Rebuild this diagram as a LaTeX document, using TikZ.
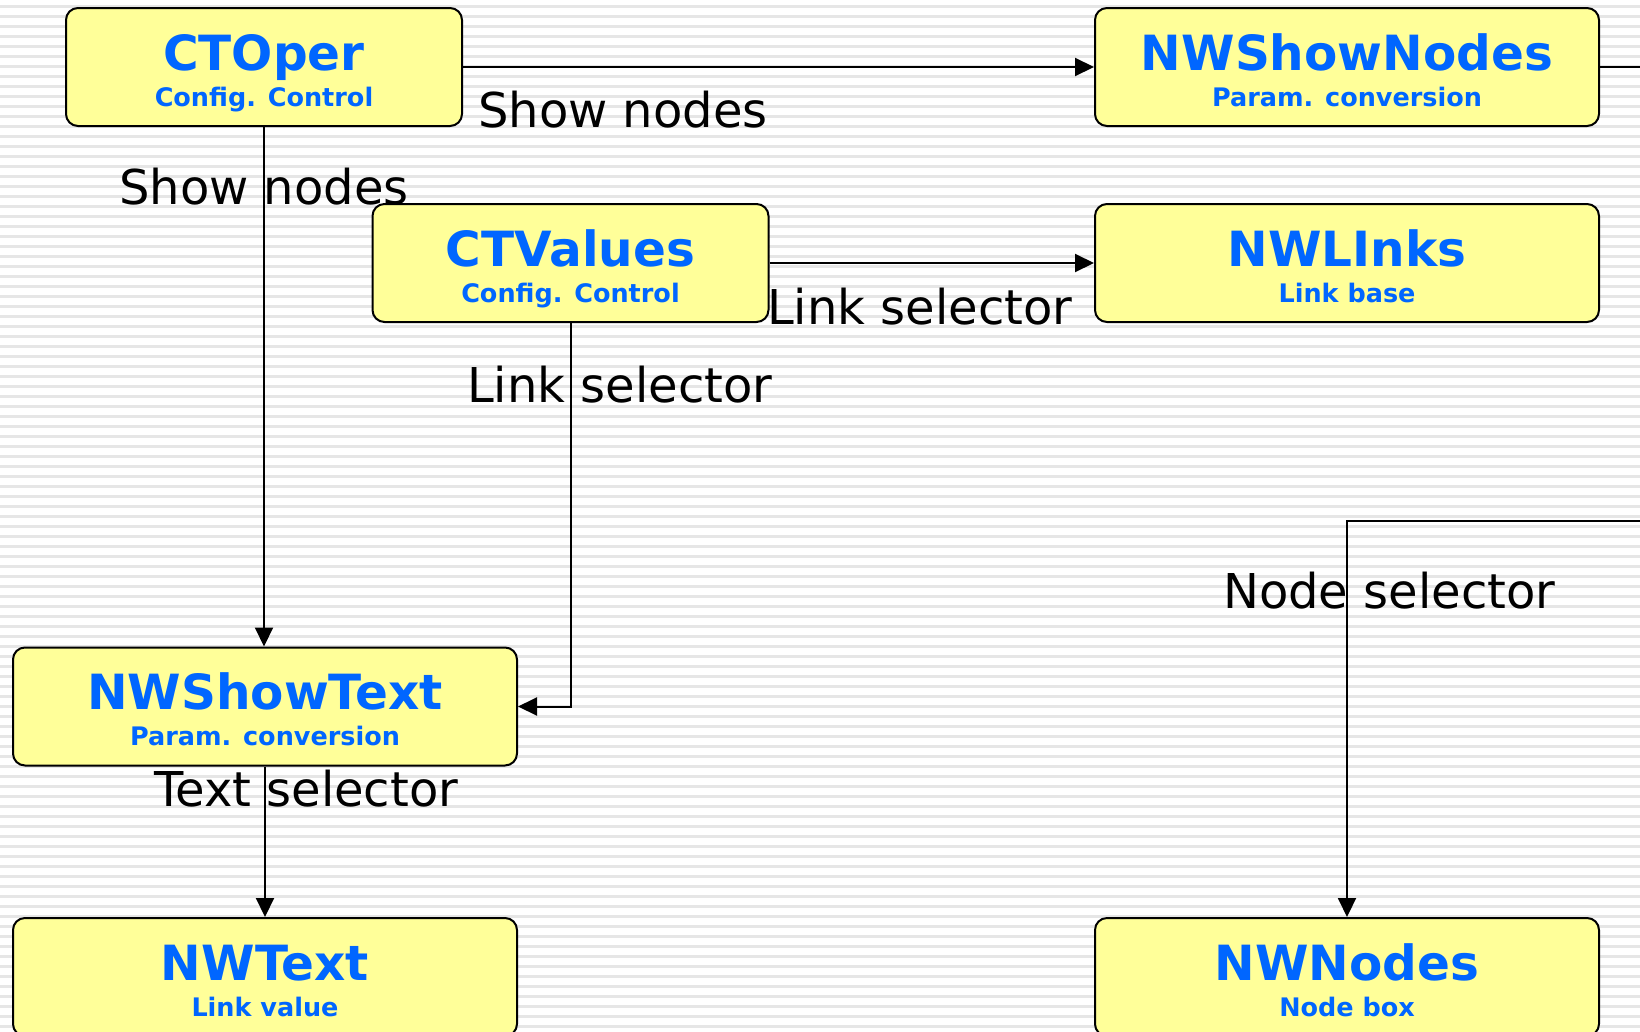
\documentclass[tikz,border=0pt]{standalone}
\usepackage{fontspec}
\setmainfont{DejaVu Sans}
\usetikzlibrary{arrows.meta}
\definecolor{boxfill}{HTML}{FFFF99}
\definecolor{titleblue}{HTML}{0066FF}
\definecolor{stripegray}{HTML}{E6E6E6}
\tikzset{
  stripe/.style={draw=stripegray, line width=2.5pt},
  box/.style={draw=black, line width=2pt, fill=boxfill, rounded corners=12pt, inner sep=0pt},
  smallbox/.style={box, minimum width=396pt, minimum height=118pt},
  bigbox/.style={box, minimum width=504pt, minimum height=118pt},
  title/.style={text=titleblue, font=\bfseries\fontsize{48.5}{58}\selectfont, anchor=base, inner sep=0pt},
  subtitle/.style={text=titleblue, font=\bfseries\fontsize{25.5}{30}\selectfont, anchor=base, inner sep=0pt},
  lbl/.style={text=black, font=\fontsize{48}{58}\selectfont, anchor=base west, inner sep=0pt},
  conn/.style={draw=black, line width=2pt},
  arr/.style={conn, -{Triangle[length=19pt,width=18pt]}}
}
\begin{document}
\begin{tikzpicture}[x=1pt,y=-1pt]
\useasboundingbox (0,0) rectangle (1640,1031);
\clip (0,0) rectangle (1640,1031);
\fill[white] (0,0) rectangle (1640,1031);
\foreach \i in {0,...,103} \draw[stripe] (0,\i*10+6.5) -- (1640,\i*10+6.5);

% boxes
\node[smallbox] (ctoper) at (264,67) {};
\node[bigbox] (nwshownodes) at (1347,67) {};
\node[smallbox] (ctvalues) at (570.5,263) {};
\node[bigbox] (nwlinks) at (1347,263) {};
\node[bigbox] (nwshowtext) at (265,706.5) {};
\node[bigbox] (nwtext) at (265,977) {};
\node[bigbox] (nwnodes) at (1347,977) {};

% box texts
\node[title] (t1) at (264,70) {CTOper};
\node[subtitle] (s1) at (264,106) {Config. Control};
\node[title] (t2) at (1347,70) {NWShowNodes};
\node[subtitle] (s2) at (1347,106) {Param. conversion};
\node[title] (t3) at (570.5,266) {CTValues};
\node[subtitle] (s3) at (570.5,302) {Config. Control};
\node[title] (t4) at (1347,266) {NWLInks};
\node[subtitle] (s4) at (1347,302) {Link base};
\node[title] (t5) at (265,709) {NWShowText};
\node[subtitle] (s5) at (265,745) {Param. conversion};
\node[title] (t6) at (265,980) {NWText};
\node[subtitle] (s6) at (265,1016) {Link value};
\node[title] (t7) at (1347,980) {NWNodes};
\node[subtitle] (s7) at (1347,1016) {Node box};

% connectors
\coordinate (rightout) at (1640,67);
\coordinate (nodesrc) at (1640,521);
\draw[arr] (ctoper.east) -- (nwshownodes.west);
\draw[conn] (nwshownodes.east) -- (rightout);
\draw[arr] (ctoper.south) -- (ctoper.south |- nwshowtext.north);
\draw[arr] (ctvalues.east) -- (nwlinks.west);
\draw[arr] (ctvalues.south) |- (nwshowtext.east);
\draw[arr] (nwshowtext.south) -- (nwtext.north);
\draw[arr] (nodesrc) -| (nwnodes.north);

% labels
\node[lbl] (l1) at (478,127) {Show nodes};
\node[lbl] (l2) at (119,204) {Show nodes};
\node[lbl] (l3) at (767,324) {Link selector};
\node[lbl] (l4) at (467,402) {Link selector};
\node[lbl] (l5) at (154,806) {Text selector};
\node[lbl] (l6) at (1223,608) {Node selector};
\end{tikzpicture}
\end{document}
